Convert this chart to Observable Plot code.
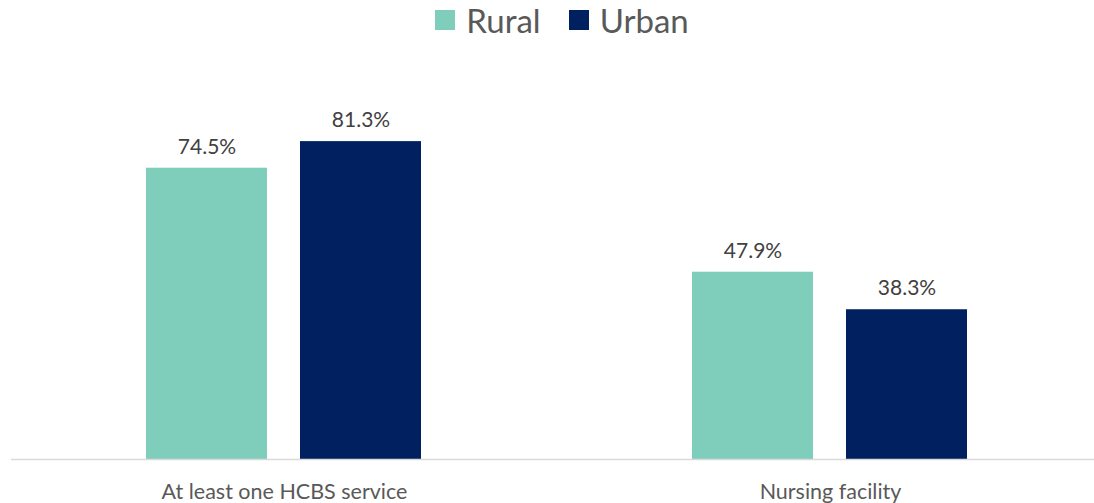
<!DOCTYPE html>
<html>
<head>
<meta charset="utf-8">
<script src="https://cdn.jsdelivr.net/npm/d3@7"></script>
<script src="https://cdn.jsdelivr.net/npm/@observablehq/plot@0.6"></script>
<style>
  html, body { margin: 0; padding: 0; background: #fff; }
  body { width: 1094px; height: 503px; overflow: hidden; font-family: Lato, "Open Sans", sans-serif; }
  #legend { height: 40px; display: flex; justify-content: center; align-items: center; gap: 28px; color: #595959; font-size: 33px; padding-left: 30px; box-sizing: border-box; }
  #legend .item { display: flex; align-items: center; gap: 11px; }
  #legend .sw { width: 20px; height: 20px; display: inline-block; }
</style>
</head>
<body>
<div id="legend"></div>
<div id="chart"></div>
<script>
const categories = ["At least one HCBS service", "Nursing facility"];
const seriesNames = ["Rural", "Urban"];
const ruralValues = [74.5, 47.9];
const urbanValues = [81.3, 38.3];
const colors = ["#7FCDBB", "#002060"];

const data = [];
categories.forEach((c, i) => {
  data.push({category: c, series: "Rural", value: ruralValues[i]});
  data.push({category: c, series: "Urban", value: urbanValues[i]});
});

const legend = document.getElementById("legend");
seriesNames.forEach((s, i) => {
  const item = document.createElement("div");
  item.className = "item";
  const sw = document.createElement("span");
  sw.className = "sw";
  sw.style.background = colors[i];
  const t = document.createElement("span");
  t.textContent = s;
  item.appendChild(sw);
  item.appendChild(t);
  legend.appendChild(item);
});

const chart = Plot.plot({
  width: 1094,
  height: 463,
  marginTop: 28,
  marginBottom: 44,
  marginLeft: 11,
  marginRight: -9,
  style: {fontFamily: "Lato, 'Open Sans', sans-serif", background: "transparent"},
  fx: {domain: categories, padding: 0, label: null},
  x: {domain: seriesNames, paddingInner: 0.213, paddingOuter: 0.868, axis: null},
  y: {domain: [0, 100], axis: null},
  color: {domain: seriesNames, range: colors},
  marks: [
    Plot.barY(data, {fx: "category", x: "series", y: "value", fill: "series"}),
    Plot.ruleY([0], {stroke: "#D9D9D9", strokeWidth: 1.5}),
    Plot.text(data, {fx: "category", x: "series", y: "value", text: d => d.value.toFixed(1) + "%", dy: -21, fontSize: 21, fill: "#404040"}),
    Plot.axisFx({anchor: "bottom", tickSize: 0, tickPadding: 24, fontSize: 21.5, fill: "#595959", label: null})
  ]
});
document.getElementById("chart").appendChild(chart);
</script>
</body>
</html>
